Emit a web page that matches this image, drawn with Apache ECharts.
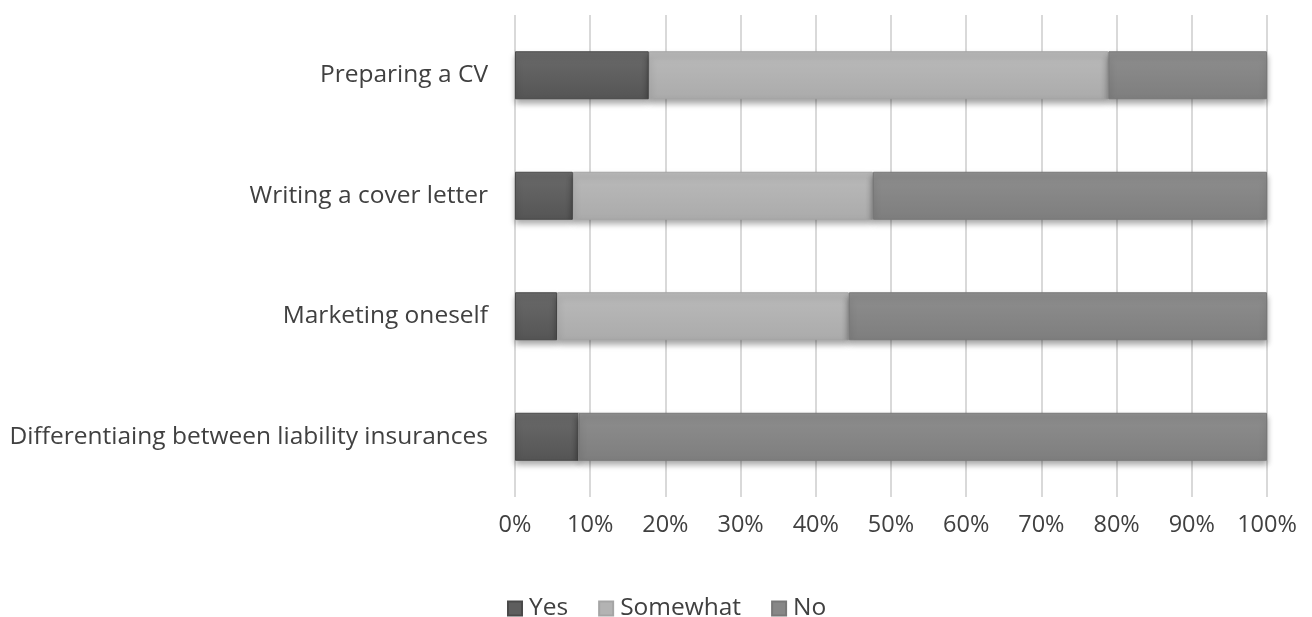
<!DOCTYPE html>
<html>
<head>
<meta charset="utf-8">
<script src="https://cdn.jsdelivr.net/npm/echarts@6/dist/echarts.min.js"></script>
<style>
html, body { margin: 0; padding: 0; background: #fff; }
#chart { width: 1312px; height: 617px; }
</style>
</head>
<body>
<div id="chart"></div>
<script>
// data (percent of respondents)
const categories = ['Preparing a CV', 'Writing a cover letter', 'Marketing oneself', 'Differentiaing between liability insurances']
const yesValues = [17.8, 7.7, 5.6, 8.5]
const somewhatValues = [61.1, 39.9, 38.8, 0]
const noValues = [21.1, 52.4, 55.6, 91.5]
const tickLabels = ['0%', '10%', '20%', '30%', '40%', '50%', '60%', '70%', '80%', '90%', '100%']

const font = '"Open Sans", "Noto Sans", sans-serif'

const grad = (top, bottom) => new echarts.graphic.LinearGradient(0, 0, 0, 1, [
  { offset: 0, color: top },
  { offset: 1, color: bottom }
])

const barSeries = (name, data, top, bottom, border) => ({
  name: name,
  type: 'bar',
  stack: 'total',
  barWidth: 48,
  data: data,
  itemStyle: {
    color: grad(top, bottom),
    borderColor: border,
    borderWidth: 1,
    shadowColor: 'rgba(0,0,0,0.35)',
    shadowBlur: 6,
    shadowOffsetY: 4
  }
})

const chart = echarts.init(document.getElementById('chart'))
chart.setOption({
  animation: false,
  grid: { left: 515, right: 45, top: 15, bottom: 120, containLabel: false },
  legend: {
    top: 591,
    left: 502,
    itemWidth: 14,
    itemHeight: 14,
    itemGap: 30,
    icon: 'rect',
    textStyle: { fontFamily: font, fontSize: 24.5, color: '#404040', padding: [0, 0, 0, 2] },
    data: [
      { name: 'Yes', itemStyle: { color: '#5e5e5e' } },
      { name: 'Somewhat', itemStyle: { color: '#b3b3b3' } },
      { name: 'No', itemStyle: { color: '#878787' } }
    ]
  },
  xAxis: {
    type: 'value',
    min: 0,
    max: 100,
    interval: 10,
    axisLine: { show: false },
    axisTick: { show: false },
    splitLine: { lineStyle: { color: '#d9d9d9', width: 2 } },
    axisLabel: {
      fontFamily: font,
      fontSize: 23.5,
      color: '#404040',
      margin: 16,
      formatter: (v) => tickLabels[Math.round(v / 10)]
    }
  },
  yAxis: {
    type: 'category',
    inverse: true,
    data: categories,
    axisLine: { show: false },
    axisTick: { show: false },
    axisLabel: { fontFamily: font, fontSize: 24.5, color: '#404040', margin: 27 }
  },
  series: [
    barSeries('Yes', yesValues, '#6a6a6a', '#555555', '#4a4a4a'),
    barSeries('Somewhat', somewhatValues, '#bababa', '#ababab', '#a5a5a5'),
    barSeries('No', noValues, '#8e8e8e', '#7e7e7e', '#787878')
  ]
})
</script>
</body>
</html>
